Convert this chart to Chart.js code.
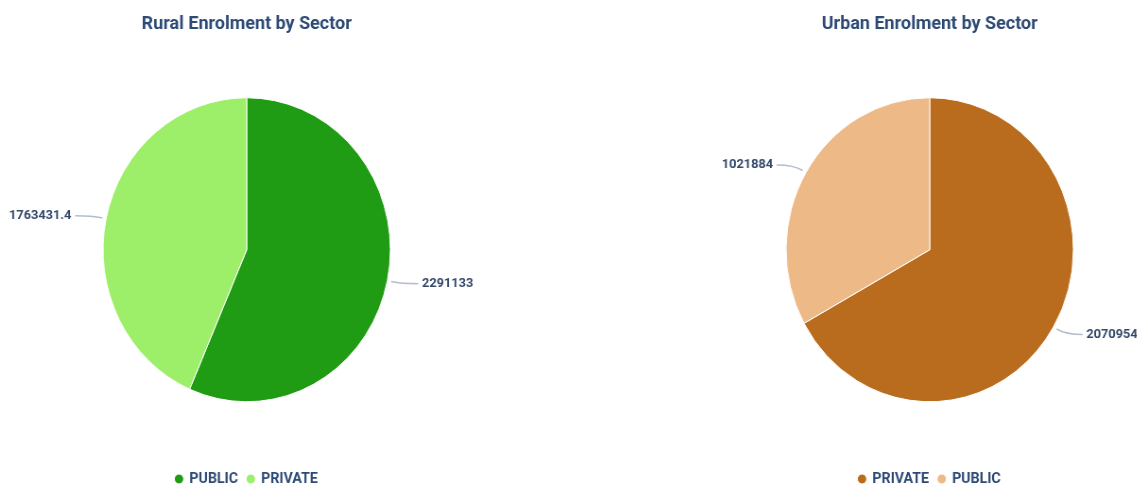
<!DOCTYPE html>
<html>
<head>
<meta charset="utf-8">
<script src="https://cdn.jsdelivr.net/npm/chart.js@4"></script>
<style>
  body { margin: 0; width: 1137px; height: 487px; overflow: hidden; background: #fff; position: relative; }
  .wrap { position: absolute; top: 0; width: 520px; height: 500px; transform: scaleX(0.945); transform-origin: 0 0; }
</style>
</head>
<body>
<div class="wrap" style="left:1px"><canvas id="rural"></canvas></div>
<div class="wrap" style="left:684px"><canvas id="urban"></canvas></div>
<script>
// data
const ruralLabels = ['PUBLIC', 'PRIVATE'];
const ruralValues = [2291133, 1763431.4];
const urbanLabels = ['PRIVATE', 'PUBLIC'];
const urbanValues = [2070954, 1021884];

const ruralColors = ['#1f9b14', '#9def6a'];
const urbanColors = ['#b96c1d', '#ecb987'];

// value labels outside the pie with a small leader line
const outLabels = {
    id: 'outLabels',
    afterDatasetsDraw(chart) {
        const ctx = chart.ctx;
        const meta = chart.getDatasetMeta(0);
        const vals = chart.data.datasets[0].data;
        ctx.save();
        meta.data.forEach((arc, i) => {
            const p = arc.getProps(['x', 'y', 'startAngle', 'endAngle', 'outerRadius'], true);
            const mid = (p.startAngle + p.endAngle) / 2;
            const dx = Math.cos(mid), dy = Math.sin(mid);
            const side = dx >= 0 ? 1 : -1;
            const x0 = p.x + dx * (p.outerRadius + 4), y0 = p.y + dy * (p.outerRadius + 4);
            const x1 = p.x + dx * (p.outerRadius + 15), y1 = p.y + dy * (p.outerRadius + 15);
            const x2 = x1 + side * 18;
            ctx.strokeStyle = '#b3bdca';
            ctx.lineWidth = 1.5;
            ctx.beginPath();
            ctx.moveTo(x0, y0);
            ctx.quadraticCurveTo(x1, y1, x2, y1);
            ctx.stroke();
            ctx.fillStyle = '#34486a';
            ctx.font = 'bold 13.5px Roboto';
            ctx.textAlign = side > 0 ? 'left' : 'right';
            ctx.textBaseline = 'middle';
            ctx.fillText(String(vals[i]), x2 + side * 4, y1);
        });
        ctx.restore();
    }
};

function makePie(id, title, labels, values, colors) {
    return new Chart(document.getElementById(id), {
        type: 'pie',
        data: {
            labels: labels,
            datasets: [{
                data: values,
                backgroundColor: colors,
                borderColor: '#ffffff',
                borderWidth: 1,
                radius: 152
            }]
        },
        options: {
            responsive: true,
            maintainAspectRatio: false,
            animation: false,
            layout: { padding: { top: 0, bottom: 3.5 } },
            plugins: {
                title: {
                    display: true,
                    text: title,
                    color: '#2d4a74',
                    font: { family: 'Roboto', size: 19, weight: 'bold' },
                    padding: { top: 13, bottom: 2.2 }
                },
                legend: {
                    position: 'bottom',
                    labels: {
                        usePointStyle: true,
                        pointStyle: 'circle',
                        boxWidth: 7,
                        boxHeight: 7,
                        padding: 10,
                        color: '#2d4a74',
                        font: { family: 'Roboto', size: 15, weight: 'bold' }
                    }
                },
                tooltip: { enabled: false }
            }
        },
        plugins: [outLabels]
    });
}

makePie('rural', 'Rural Enrolment by Sector', ruralLabels, ruralValues, ruralColors);
makePie('urban', 'Urban Enrolment by Sector', urbanLabels, urbanValues, urbanColors);
</script>
</body>
</html>
